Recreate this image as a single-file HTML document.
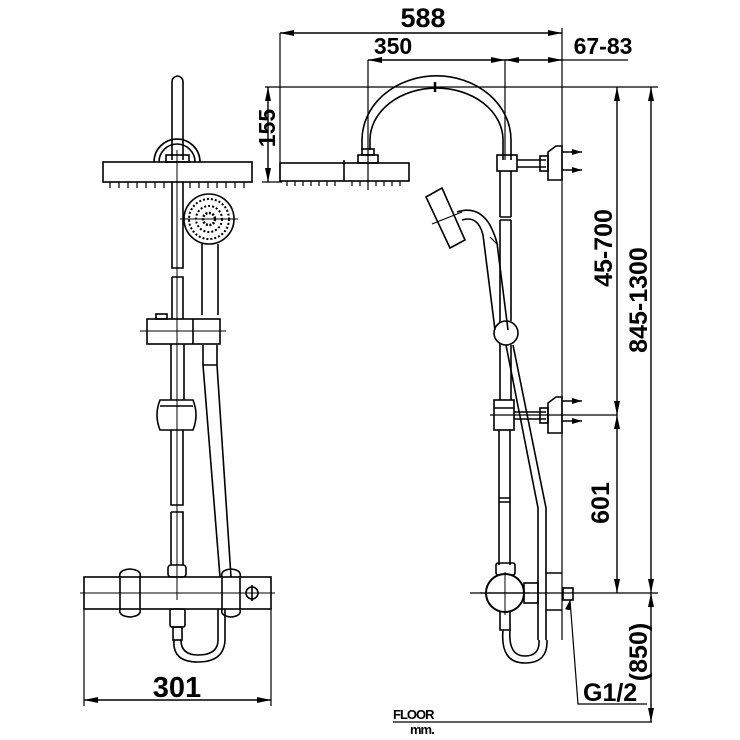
<!DOCTYPE html>
<html><head><meta charset="utf-8"><style>
html,body{margin:0;padding:0;background:#fff}
svg{display:block}
text{font-family:"Liberation Sans",sans-serif;font-weight:bold;fill:#000}
</style></head><body>
<svg width="740" height="740" viewBox="0 0 740 740" xmlns="http://www.w3.org/2000/svg">
<defs>
<marker id="a" markerWidth="10" markerHeight="6" refX="10" refY="3" orient="auto" markerUnits="userSpaceOnUse"><path d="M0,0 L10,3 L0,6 z" fill="#000"/></marker>
<marker id="as" markerWidth="14" markerHeight="6" refX="14" refY="3" orient="auto-start-reverse" markerUnits="userSpaceOnUse"><path d="M0,0 L14,3 L0,6 z" fill="#000"/></marker>
</defs>
<g fill="none" stroke="#000" stroke-width="1.6">
<!-- ===== LEFT VIEW ===== -->
<path d="M172,160 V82 Q172,77 177.5,76 Q183,77 183,82 V160"/>
<path d="M159,162 A18,18 0 0 1 195,162"/>
<path d="M154,162 A23,23 0 0 1 200,162"/>
<rect x="166" y="155" width="23" height="7"/>
<rect x="103" y="162" width="149" height="20"/>
<path d="M110,182v6M119,182v6M128,182v6M137,182v6M146,182v6M155,182v6M164,182v6M190,182v6M199,182v6M208,182v6M217,182v6M226,182v6M235,182v6M244,182v6" stroke-width="1.2"/>
<line x1="177" y1="150" x2="177" y2="600" stroke-width="1"/>
<path d="M172,182 V268 H183 V182"/>
<path d="M172,277 H183 V319 M172,277 V319"/>
<rect x="147" y="319" width="73" height="25"/>
<rect x="156" y="314" width="11" height="5"/>
<line x1="193" y1="319" x2="193" y2="344"/>
<line x1="140" y1="331" x2="226" y2="331" stroke-width="1"/>
<path d="M171,344 V400 M184,344 V400"/>
<path d="M160,400 Q154,415 160,430 H193 Q199,415 193,400 Z"/>
<line x1="160" y1="406" x2="193" y2="406"/>
<path d="M171,430 V505 H183 V430"/>
<path d="M171,512 H183 V565 M171,512 V565"/>
<rect x="168" y="565" width="18" height="12" rx="3"/>
<circle cx="209" cy="219" r="25"/>
<circle cx="209" cy="219" r="20" stroke-dasharray="2 2" stroke-width="2"/>
<circle cx="209" cy="219" r="13" stroke-dasharray="2 2" stroke-width="2"/>
<circle cx="209" cy="219" r="6" stroke-dasharray="2 1.5" stroke-width="2.5"/>
<line x1="180" y1="219" x2="238" y2="219" stroke-width="1"/>
<path d="M202,244 V315 M218,244 V315"/>
<path d="M203,345 V365 H217 V345 M203,365 L220,577 M217,365 L231,577"/>
<rect x="84" y="577" width="187" height="32"/>
<line x1="80" y1="593" x2="275" y2="593" stroke-width="1"/>
<path d="M120,577 Q118,570 130,569 Q142,570 140,577 M120,609 Q118,616 130,617 Q142,616 140,609 M120,577 V609 M140,577 V609"/>
<path d="M222,577 Q220,570 231,569 Q242,570 240,577 M222,609 Q220,616 231,617 Q242,616 240,609 M222,577 V609 M240,577 V609"/>
<circle cx="252" cy="593" r="6"/>
<line x1="252" y1="585" x2="252" y2="601"/>
<rect x="170" y="609" width="15" height="18" rx="2"/>
<rect x="173" y="627" width="9" height="13"/>
<path d="M174,640 Q172,662 198,662 Q224,662 225,640 V609 M181,640 Q181,655 198,655 Q218,655 218,640 V609"/>
<path d="M84,609 V706 M271,609 V706" stroke-width="1.2"/>
<line x1="84" y1="700" x2="271" y2="700" stroke-width="1.4" marker-start="url(#as)" marker-end="url(#as)"/>

<!-- ===== RIGHT VIEW ===== -->
<path d="M280,33 V182 M368,60 V190 M562,28 V640" stroke-width="1.2"/>
<line x1="280" y1="33" x2="562" y2="33" stroke-width="1.4" marker-start="url(#as)" marker-end="url(#as)"/>
<line x1="368" y1="60" x2="505" y2="60" stroke-width="1.4" marker-start="url(#as)" marker-end="url(#as)"/>
<line x1="505" y1="60" x2="530" y2="60" stroke-width="1.4" marker-start="url(#as)"/>
<line x1="530" y1="60" x2="562" y2="60" stroke-width="1.4" marker-end="url(#as)"/>
<line x1="562" y1="60" x2="628" y2="60" stroke-width="1.2"/>
<path d="M505,60 V160" stroke-width="1.2"/>
<line x1="265" y1="87" x2="658" y2="87" stroke-width="1.2"/>
<line x1="262" y1="182" x2="282" y2="182" stroke-width="1.2"/>
<line x1="268" y1="87" x2="268" y2="182" stroke-width="1.4" marker-start="url(#as)" marker-end="url(#as)"/>
<rect x="280" y="163" width="129" height="18"/>
<line x1="344" y1="160" x2="344" y2="181"/>
<path d="M287,181v5M295,181v5M303,181v5M311,181v5M319,181v5M327,181v5M335,181v5M352,181v5M360,181v5M376,181v5M384,181v5M392,181v5M400,181v5" stroke-width="1.2"/>
<rect x="358" y="155" width="20" height="8"/>
<rect x="362" y="149" width="12" height="6"/>
<path d="M362,150 V140 A72,62 0 0 1 511,140 V160"/>
<path d="M370,150 V140 A64,50 0 0 1 503,140 V160"/>
<line x1="435" y1="82" x2="435" y2="92" stroke-width="2.5"/>
<rect x="497" y="155" width="20" height="16"/>
<path d="M500,171 V217 M511,171 V217 M500,217 H511 M500,220 H511 M500,220 V400 M511,220 V321"/>
<circle cx="506" cy="333" r="12" fill="#fff"/>
<path d="M511,345 V400"/>
<rect x="494" y="400" width="20" height="30"/>
<line x1="494" y1="408" x2="514" y2="408"/>
<path d="M499,430 V565 M510,430 V565 M499,498 H510 M499,502 H510"/>
<path d="M517,160 H546 M517,167 H546"/>
<rect x="540" y="156" width="8" height="15"/>
<path d="M548,152 L556,146 H562 V180 H548 Z"/>
<line x1="562" y1="152" x2="582" y2="152" marker-end="url(#a)"/>
<line x1="562" y1="170" x2="582" y2="170" marker-end="url(#a)"/>
<path d="M514,412 H546 M514,419 H546"/>
<rect x="540" y="408" width="8" height="15"/>
<path d="M548,403 L556,397 H562 V433 H548 Z"/>
<line x1="562" y1="401" x2="582" y2="401" marker-end="url(#a)"/>
<line x1="562" y1="421" x2="582" y2="421" marker-end="url(#a)"/>
<line x1="490" y1="415" x2="617" y2="415" stroke-width="1.2"/>
<path d="M426,197 L442,188 L465,240 L450,248 Z"/>
<line x1="432" y1="224" x2="462" y2="212" stroke-width="1.2"/>
<path d="M457,212 Q478,205 490,225 Q495,235 497,243 L508,330"/>
<path d="M462,220 Q478,215 483,235 L495,330"/>
<path d="M490,237 L498,245" stroke-width="1.2"/>
<path d="M506,345 L538,508 V640 M513,345 L546,508 V640"/>
<rect x="496" y="563" width="19" height="12" rx="2"/>
<rect x="524" y="583" width="14" height="20"/>
<circle cx="505" cy="593" r="19" stroke-width="2" fill="#fff"/>
<line x1="480" y1="593" x2="530" y2="593" stroke-width="1.2"/>
<line x1="505" y1="572" x2="505" y2="615" stroke-width="1"/>
<path d="M500,612 V630 H510 V612"/>
<path d="M503,630 Q500,663 525,663 Q548,663 547,640 M510,630 Q508,656 525,656 Q540,656 539,640"/>
<path d="M546,573 H562 M546,610 H562"/>
<rect x="563" y="588" width="10" height="12"/>
<line x1="470" y1="593" x2="658" y2="593" stroke-width="1.2"/>
<line x1="617" y1="87" x2="617" y2="415" stroke-width="1.4" marker-start="url(#as)" marker-end="url(#as)"/>
<line x1="617" y1="415" x2="617" y2="593" stroke-width="1.4" marker-start="url(#as)" marker-end="url(#as)"/>
<line x1="651" y1="87" x2="651" y2="593" stroke-width="1.4" marker-start="url(#as)" marker-end="url(#as)"/>
<line x1="651" y1="593" x2="651" y2="722" stroke-width="1.4" marker-start="url(#as)" marker-end="url(#as)"/>
<path d="M570,600 L578,704 H647" stroke-width="1.2"/>
<line x1="568" y1="610" x2="570" y2="600" marker-end="url(#a)" stroke-width="1"/>
<line x1="393" y1="722" x2="652" y2="722" stroke-width="1.2"/>
</g>
<text x="177" y="697" font-size="29" text-anchor="middle">301</text>
<text x="423" y="27" font-size="27" text-anchor="middle">588</text>
<text x="393" y="54" font-size="23" text-anchor="middle">350</text>
<text x="603" y="54" font-size="23" text-anchor="middle">67-83</text>
<text transform="translate(275,128) rotate(-90)" font-size="23" text-anchor="middle">155</text>
<text transform="translate(612,248) rotate(-90)" font-size="25" text-anchor="middle">45-700</text>
<text transform="translate(647,300) rotate(-90)" font-size="25" text-anchor="middle">845-1300</text>
<text transform="translate(609,503) rotate(-90)" font-size="25" text-anchor="middle">601</text>
<text transform="translate(647,652) rotate(-90)" font-size="25" text-anchor="middle">(850)</text>
<text x="583" y="701" font-size="25">G1/2</text>
<text x="393" y="719" font-size="13" letter-spacing="-1">FLOOR</text>
<text x="410" y="734" font-size="13" letter-spacing="-1">mm.</text>
</svg>
</body></html>
